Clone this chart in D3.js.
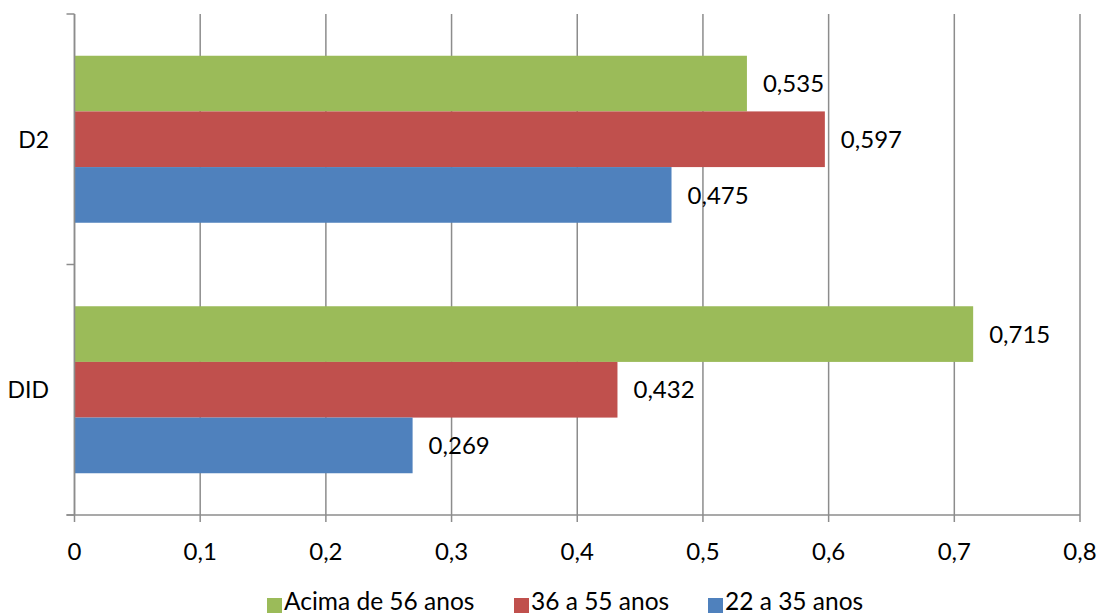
<!DOCTYPE html>
<html>
<head>
<meta charset="utf-8">
<script src="https://cdn.jsdelivr.net/npm/d3@7/dist/d3.min.js"></script>
<style>
  html, body { margin: 0; padding: 0; background: #fff; }
  svg { display: block; font-family: Lato, "Open Sans", "Liberation Sans", sans-serif; }
</style>
</head>
<body>
<svg id="chart" width="1099" height="616"></svg>
<script>
// Categories (top to bottom) and series values
const categories = ["D2", "DID"];
const seriesNames = ["Acima de 56 anos", "36 a 55 anos", "22 a 35 anos"];
const seriesColors = ["#9BBB59", "#C0504D", "#4F81BD"];
const acima56 = [0.535, 0.715];
const de36a55 = [0.597, 0.432];
const de22a35 = [0.475, 0.269];
const xTicks = [0, 0.1, 0.2, 0.3, 0.4, 0.5, 0.6, 0.7, 0.8];

const seriesValues = [acima56, de36a55, de22a35];

const svg = d3.select("#chart");
const plotLeft = 74.5, plotRight = 1080, plotTop = 14, plotBottom = 515;
const grid = "#8c8c8c";

const x = d3.scaleLinear().domain([0, 0.8]).range([plotLeft, plotRight]);
const y = d3.scaleBand().domain(categories).range([plotTop, plotBottom]).paddingInner(1/3).paddingOuter(1/6);
const ySub = d3.scaleBand().domain(seriesNames).range([0, y.bandwidth()]);

const fmt = v => d3.format(".3~f")(v).replace(".", ",");
const fmtTick = v => d3.format("~g")(v).replace(".", ",");

// Vertical gridlines with tick marks below the axis
svg.append("g").selectAll("line").data(xTicks).join("line")
  .attr("x1", d => x(d)).attr("x2", d => x(d))
  .attr("y1", plotTop).attr("y2", plotBottom + 7)
  .attr("stroke", grid).attr("stroke-width", 1.5);

// Bars
const groups = svg.append("g").selectAll("g").data(categories).join("g")
  .attr("transform", c => `translate(0,${y(c)})`);

seriesNames.forEach((name, si) => {
  groups.append("rect")
    .attr("x", x(0))
    .attr("y", ySub(name))
    .attr("width", (c, ci) => x(seriesValues[si][ci]) - x(0))
    .attr("height", ySub.bandwidth())
    .attr("fill", seriesColors[si]);
  groups.append("text")
    .attr("x", (c, ci) => x(seriesValues[si][ci]) + 16)
    .attr("y", ySub(name) + ySub.bandwidth() / 2)
    .attr("dy", "0.36em")
    .attr("font-size", 24)
    .attr("fill", "#000")
    .text((c, ci) => fmt(seriesValues[si][ci]));
});

// Vertical axis line and category boundary ticks
svg.append("line")
  .attr("x1", x(0)).attr("x2", x(0)).attr("y1", plotTop).attr("y2", plotBottom)
  .attr("stroke", grid).attr("stroke-width", 1.5);
const boundaries = [plotTop, (y("D2") + y.bandwidth() + y("DID")) / 2, plotBottom];
svg.append("g").selectAll("line").data(boundaries).join("line")
  .attr("x1", x(0) - 8).attr("x2", x(0))
  .attr("y1", d => d).attr("y2", d => d)
  .attr("stroke", grid).attr("stroke-width", 1.5);

// Horizontal axis line
svg.append("line")
  .attr("x1", x(0) - 8).attr("x2", plotRight).attr("y1", plotBottom).attr("y2", plotBottom)
  .attr("stroke", grid).attr("stroke-width", 1.5);

// X tick labels
svg.append("g").selectAll("text").data(xTicks).join("text")
  .attr("x", d => x(d)).attr("y", 551).attr("dy", "0.36em")
  .attr("text-anchor", "middle").attr("font-size", 24).attr("fill", "#000")
  .text(fmtTick);

// Category labels
svg.append("g").selectAll("text").data(categories).join("text")
  .attr("x", 49).attr("y", c => y(c) + y.bandwidth() / 2).attr("dy", "0.36em")
  .attr("text-anchor", "end").attr("font-size", 23).attr("fill", "#000")
  .text(d => d);

// Legend
const legendX = [267, 514, 708];
const legend = svg.append("g").selectAll("g").data(seriesNames).join("g")
  .attr("transform", (d, i) => `translate(${legendX[i]},610)`);
legend.append("rect").attr("x", 0).attr("y", -12).attr("width", 15).attr("height", 15)
  .attr("fill", (d, i) => seriesColors[i]);
legend.append("text").attr("x", 17).attr("y", 0)
  .attr("font-size", 24.5).attr("fill", "#000").text(d => d);
</script>
</body>
</html>
